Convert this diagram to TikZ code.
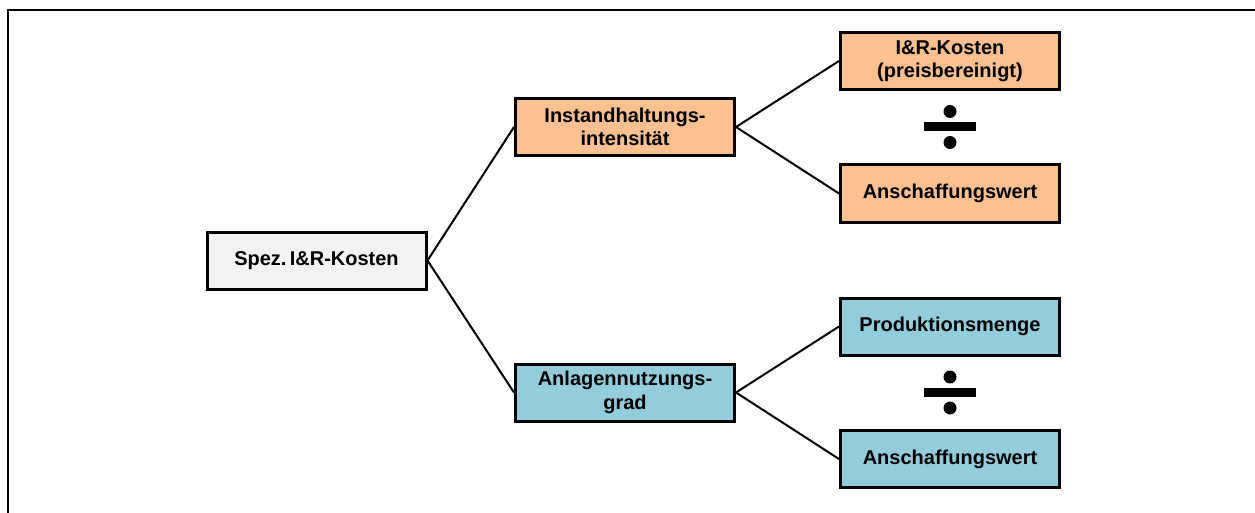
\documentclass[tikz,border=0pt]{standalone}
\usepackage{fontspec}
\setmainfont{Liberation Sans}
\definecolor{boxgray}{HTML}{F2F2F2}
\definecolor{boxorange}{HTML}{FAC090}
\definecolor{boxblue}{HTML}{93CDDD}
\tikzset{
  kpi/.style={draw=black, line width=3pt, minimum width=219pt, minimum height=57pt,
    align=center, inner sep=2pt,
    font=\fontsize{20}{23.5}\selectfont\bfseries},
  link/.style={draw=black, line width=2pt},
  divsign/.pic={
    \fill (0,-15.5) circle (6.5);
    \fill (-26,-4.5) rectangle (26,4.5);
    \fill (0,15.5) circle (6.5);
  }
}
\begin{document}
\begin{tikzpicture}[x=1pt,y=-1pt]
  \useasboundingbox (0,0) rectangle (1255,513);
  % outer frame (left and top edges)
  \draw[line width=2pt] (8,513) -- (8,10) -- (1255,10);

  \node[kpi, fill=boxgray]   (spez)  at (316.5,260.5) {Spez.\,I\&R-Kosten};
  \node[kpi, fill=boxorange] (ih)    at (625,127)     {Instandhaltungs-\\intensität};
  \node[kpi, fill=boxblue]   (ang)   at (625,392.5)   {Anlagennutzungs-\\grad};
  \node[kpi, fill=boxorange] (irk)   at (950,61)      {I\&R-Kosten\\(preisbereinigt)};
  \node[kpi, fill=boxorange] (aw1)   at (950,193.5)   {Anschaffungswert};
  \node[kpi, fill=boxblue]   (pm)    at (950,326.5)   {Produktionsmenge};
  \node[kpi, fill=boxblue]   (aw2)   at (950,459)     {Anschaffungswert};

  \draw[link] (spez.east) -- (ih.west);
  \draw[link] (spez.east) -- (ang.west);
  \draw[link] (ih.east) -- (irk.west);
  \draw[link] (ih.east) -- (aw1.west);
  \draw[link] (ang.east) -- (pm.west);
  \draw[link] (ang.east) -- (aw2.west);

  % division signs between numerator and denominator
  \pic at (950,127) {divsign};
  \pic at (950,392.5) {divsign};
\end{tikzpicture}
\end{document}
